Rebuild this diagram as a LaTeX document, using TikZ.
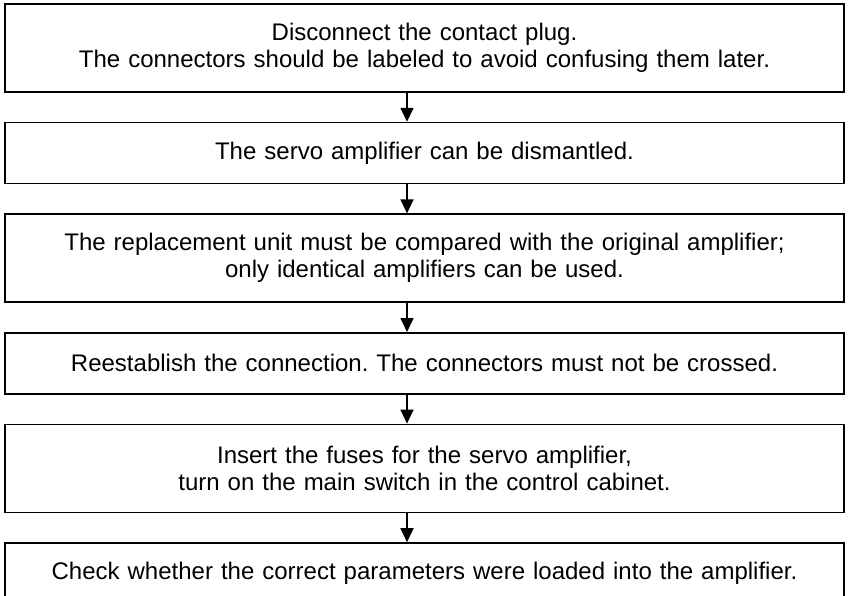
\documentclass[tikz,border=0pt]{standalone}
\usepackage{fontspec}
\setmainfont{Liberation Sans}
\usetikzlibrary{arrows.meta}
\usetikzlibrary{positioning}
\frenchspacing

\tikzset{
  stepbox/.style={draw, line width=1.6pt, minimum width=839pt, text width=820pt,
    align=center, inner sep=0pt, font=\fontsize{24pt}{27pt}\selectfont},
  onerow/.style={stepbox, minimum height=61pt},
  tworow/.style={stepbox, minimum height=88pt},
  flow/.style={line width=1.6pt, -{Triangle[length=14pt,width=13pt]}}
}

\begin{document}
\begin{tikzpicture}[node distance=29pt]

    % page frame
    \useasboundingbox (0,0) rectangle (850pt,-595pt);

    % steps
    \node[tworow] (unplug) at (424.5pt,-48pt) {Disconnect the contact plug.\\The connectors should be labeled to avoid confusing them later.};
    \node[onerow, below=of unplug] (dismantle) {The servo amplifier can be dismantled.};
    \node[tworow, below=of dismantle] (compare) {The replacement unit must be compared with the original amplifier;\\only identical amplifiers can be used.};
    \node[onerow, below=of compare] (reconnect) {Reestablish the connection. The connectors must not be crossed.};
    \node[tworow, below=of reconnect] (fuses) {Insert the fuses for the servo amplifier,\\turn on the main switch in the control cabinet.};
    \node[onerow, below=of fuses] (check) {Check whether the correct parameters were loaded into the amplifier.};

    % arrows
    \foreach \a/\b in {unplug/dismantle, dismantle/compare, compare/reconnect, reconnect/fuses, fuses/check}
      \draw[flow] ([xshift=-17.5pt]\a.south) -- ([xshift=-17.5pt]\b.north);

\end{tikzpicture}
\end{document}
